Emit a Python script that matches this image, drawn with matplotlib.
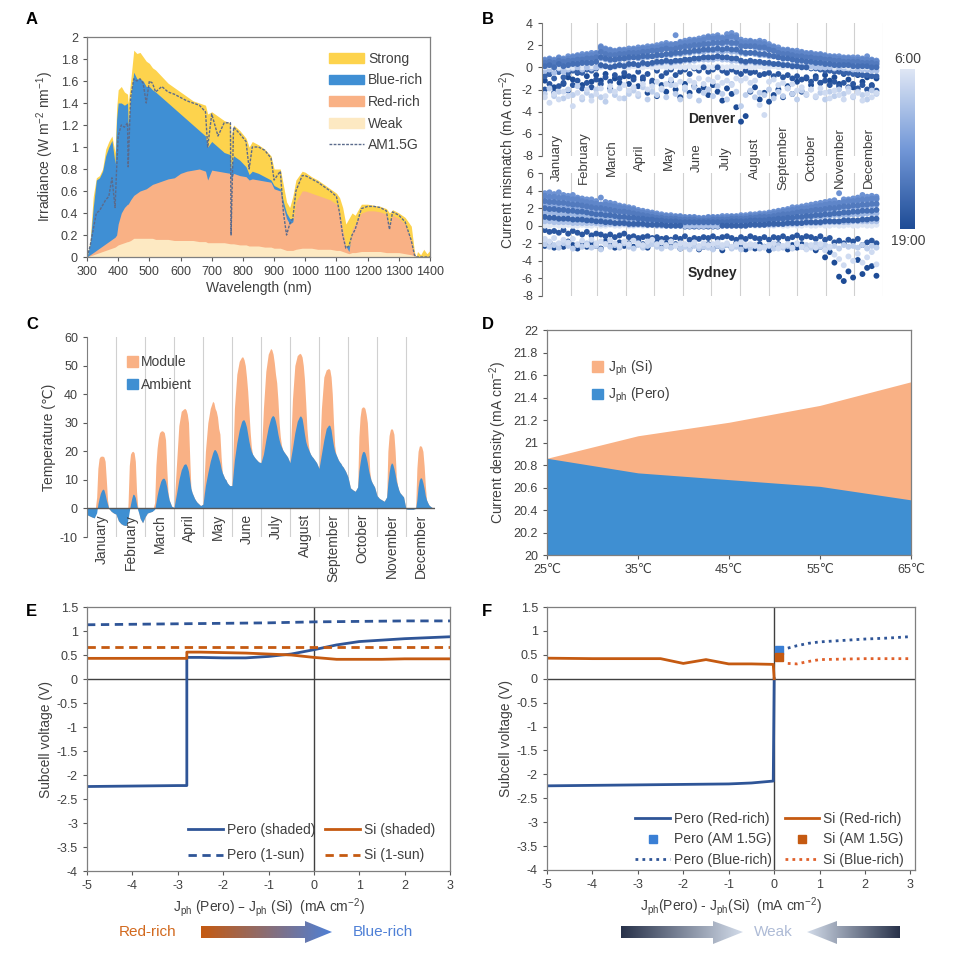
import numpy as np
import matplotlib
matplotlib.use("Agg")
import matplotlib.pyplot as plt
from matplotlib.colors import LinearSegmentedColormap
from matplotlib.patches import Polygon, Patch
from matplotlib.lines import Line2D
from matplotlib.ticker import FuncFormatter

plt.rcParams["font.family"] = ["Liberation Sans", "DejaVu Sans"]
plt.rcParams["mathtext.default"] = "regular"
plt.rcParams["axes.unicode_minus"] = False
plt.rcParams["font.size"] = 9
plt.rcParams["text.color"] = "#404040"
plt.rcParams["axes.labelcolor"] = "#404040"
plt.rcParams["xtick.color"] = "#595959"
plt.rcParams["ytick.color"] = "#595959"
plt.rcParams["xtick.labelcolor"] = "#404040"
plt.rcParams["ytick.labelcolor"] = "#404040"
plt.rcParams["xtick.major.size"] = 3
plt.rcParams["ytick.major.size"] = 3

# ---------------- A: spectra ----------------
wl = [300, 310, 320, 330, 340, 350, 360, 370, 380, 390, 395, 400, 410, 420, 430, 432, 440,
      450, 460, 470, 480, 490, 500, 510, 520, 540, 560, 580, 600, 620, 640, 660, 680, 687,
      700, 720, 740, 760, 762, 770, 790, 810, 820, 830, 850, 870, 890, 900, 920, 930, 940,
      950, 960, 970, 990, 1000, 1020, 1040, 1060, 1080, 1100, 1110, 1120, 1130, 1140, 1150,
      1160, 1180, 1200, 1220, 1240, 1260, 1270, 1280, 1300, 1320, 1340, 1350, 1355, 1360,
      1370, 1380, 1390, 1400]
am15 = [0.00, 0.10, 0.25, 0.40, 0.42, 0.47, 0.52, 0.55, 0.72, 0.45, 0.80, 1.10, 1.20, 1.18,
        1.22, 0.82, 1.45, 1.62, 1.60, 1.62, 1.58, 1.40, 1.60, 1.58, 1.50, 1.55, 1.50, 1.48,
        1.45, 1.42, 1.40, 1.38, 1.32, 1.00, 1.30, 1.10, 1.22, 1.22, 0.20, 1.18, 1.12, 1.05,
        0.80, 1.00, 1.00, 0.97, 0.90, 0.70, 0.78, 0.40, 0.20, 0.30, 0.35, 0.60, 0.74, 0.74,
        0.71, 0.68, 0.64, 0.60, 0.55, 0.40, 0.20, 0.08, 0.10, 0.20, 0.25, 0.44, 0.46, 0.46,
        0.45, 0.42, 0.25, 0.41, 0.38, 0.32, 0.15, 0.02, 0.00, 0.00, 0.00, 0.00, 0.00, 0.00]
strong = [0.00, 0.15, 0.55, 0.72, 0.74, 0.80, 0.98, 1.05, 1.10, 0.95, 1.35, 1.52, 1.55, 1.50,
          1.48, 1.40, 1.60, 1.88, 1.85, 1.86, 1.82, 1.78, 1.76, 1.72, 1.70, 1.64, 1.58, 1.54,
          1.50, 1.46, 1.42, 1.40, 1.38, 1.30, 1.32, 1.28, 1.24, 1.22, 1.10, 1.20, 1.15, 1.08,
          1.00, 1.05, 1.02, 0.98, 0.92, 0.80, 0.80, 0.65, 0.50, 0.45, 0.55, 0.70, 0.78, 0.77,
          0.73, 0.70, 0.66, 0.62, 0.58, 0.54, 0.45, 0.30, 0.35, 0.40, 0.38, 0.48, 0.48, 0.47,
          0.46, 0.44, 0.40, 0.43, 0.40, 0.36, 0.28, 0.05, 0.00, 0.05, 0.02, 0.07, 0.03, 0.06]
blue_rich = [0.00, 0.12, 0.45, 0.70, 0.72, 0.78, 0.92, 1.00, 1.06, 0.85, 1.25, 1.40, 1.40,
             1.38, 1.40, 1.20, 1.45, 1.68, 1.62, 1.62, 1.60, 1.55, 1.55, 1.52, 1.50, 1.45,
             1.40, 1.35, 1.30, 1.25, 1.20, 1.15, 1.10, 1.00, 1.05, 1.00, 0.95, 0.93, 0.80,
             0.92, 0.88, 0.82, 0.75, 0.78, 0.76, 0.73, 0.70, 0.65, 0.62, 0.50, 0.40, 0.35,
             0.35, 0.40, 0.42, 0.42, 0.40, 0.38, 0.36, 0.33, 0.30, 0.25, 0.15, 0.10, 0.10,
             0.15, 0.15, 0.20, 0.22, 0.22, 0.21, 0.20, 0.18, 0.20, 0.18, 0.15, 0.08, 0.02,
             0.00, 0.00, 0.00, 0.00, 0.00, 0.00]
red_rich = [0.00, 0.02, 0.04, 0.06, 0.08, 0.10, 0.12, 0.14, 0.16, 0.18, 0.20, 0.30, 0.40,
            0.45, 0.48, 0.48, 0.52, 0.56, 0.58, 0.60, 0.61, 0.62, 0.64, 0.66, 0.67, 0.69,
            0.71, 0.72, 0.76, 0.78, 0.79, 0.80, 0.78, 0.70, 0.79, 0.78, 0.77, 0.76, 0.70,
            0.76, 0.74, 0.73, 0.70, 0.71, 0.70, 0.69, 0.68, 0.62, 0.60, 0.45, 0.35, 0.30,
            0.32, 0.50, 0.60, 0.60, 0.58, 0.56, 0.54, 0.52, 0.48, 0.40, 0.25, 0.10, 0.05,
            0.25, 0.30, 0.40, 0.42, 0.42, 0.41, 0.39, 0.30, 0.38, 0.35, 0.30, 0.15, 0.02,
            0.00, 0.00, 0.00, 0.00, 0.00, 0.00]
weak = [0.00, 0.01, 0.02, 0.03, 0.04, 0.05, 0.06, 0.07, 0.08, 0.09, 0.10, 0.11, 0.12, 0.13,
        0.14, 0.14, 0.15, 0.17, 0.17, 0.17, 0.17, 0.17, 0.17, 0.17, 0.16, 0.16, 0.16, 0.15,
        0.15, 0.15, 0.15, 0.14, 0.14, 0.13, 0.13, 0.13, 0.13, 0.12, 0.12, 0.12, 0.11, 0.11,
        0.10, 0.10, 0.10, 0.09, 0.09, 0.08, 0.08, 0.07, 0.06, 0.06, 0.06, 0.07, 0.08, 0.08,
        0.08, 0.07, 0.07, 0.07, 0.06, 0.06, 0.05, 0.04, 0.03, 0.04, 0.04, 0.05, 0.05, 0.05,
        0.05, 0.04, 0.04, 0.04, 0.04, 0.03, 0.02, 0.01, 0.00, 0.00, 0.00, 0.00, 0.00, 0.00]

# ---------------- B: current mismatch (rows = sample days, columns = hours) ----------------
months = ["January", "February", "March", "April", "May", "June", "July", "August",
          "September", "October", "November", "December"]
month_edges = [0, 31, 59, 90, 120, 151, 181, 212, 243, 273, 304, 334, 365]
b_days = [3, 8, 13, 18, 23, 28, 33, 38, 43, 48, 53, 58, 63, 68, 73, 78, 83, 88, 93, 98,
          103, 108, 113, 118, 123, 128, 133, 138, 143, 148, 153, 158, 163, 168, 173, 178,
          183, 188, 193, 198, 203, 208, 213, 218, 223, 228, 233, 238, 243, 248, 253, 258,
          263, 268, 273, 278, 283, 288, 293, 298, 303, 308, 313, 318, 323, 328, 333, 338,
          343, 348, 353, 358]
# hour of day belonging to each column of the tables below
b_hours = [6, 8, 9, 10, 11, 12, 13, 14, 15, 16, 17, 18, 7, 19]
denver = [
    [0.0, -2.4, -0.3, 0.2, 0.4, 0.6, 0.7, 0.6, 0.4, 0.1, -0.8, -2.0, -2.7, -1.2],
    [0.1, -1.9, -0.2, 0.3, 0.5, 0.7, 0.8, 0.7, 0.5, 0.2, -0.6, -1.5, -3.2, -0.6],
    [0.0, -2.6, -0.5, 0.2, 0.5, 0.6, 0.7, 0.6, 0.4, 0.0, -1.0, -2.3, -2.4, -1.8],
    [0.0, -2.2, -0.1, 0.3, 0.6, 0.8, 0.9, 0.8, 0.6, 0.3, -0.4, -1.7, -2.9, -0.4],
    [0.1, -2.8, -0.4, 0.2, 0.5, 0.7, 0.8, 0.7, 0.5, 0.1, -0.9, -1.4, -2.2, -1.5],
    [0.0, -2.0, -0.2, 0.4, 0.7, 0.8, 1.0, 0.8, 0.6, 0.2, -0.5, -2.1, -2.6, -0.9],
    [0.0, -2.5, -0.1, 0.4, 0.7, 0.9, 1.0, 0.9, 0.6, 0.3, -0.3, -1.6, -3.5, -1.1],
    [0.1, -1.7, 0.0, 0.5, 0.8, 1.0, 1.1, 1.0, 0.7, 0.3, -0.4, -1.2, -2.3, -0.5],
    [0.0, -2.9, -0.2, 0.4, 0.8, 1.0, 1.2, 1.0, 0.7, 0.4, -0.5, -1.9, -2.7, -1.6],
    [0.0, -2.3, 0.0, 0.5, 0.9, 1.1, 1.2, 1.1, 0.8, 0.4, -0.2, -1.4, -2.0, -0.8],
    [0.1, -2.6, -0.1, 0.5, 0.9, 1.1, 1.3, 1.1, 0.8, 0.4, -0.3, -1.8, -3.0, -1.3],
    [0.0, -2.0, 0.0, 0.6, 1.0, 1.2, 1.3, 1.2, 0.9, 0.5, -0.1, -1.1, -2.4, -0.7],
    [0.0, -2.7, 0.1, 0.8, 1.3, 1.7, 1.9, 1.8, 1.4, 0.9, 0.2, -1.5, -1.9, -1.2],
    [0.1, -3.1, 0.1, 0.7, 1.2, 1.5, 1.7, 1.6, 1.2, 0.8, 0.1, -0.9, -2.6, -0.6],
    [0.0, -2.1, 0.0, 0.6, 1.1, 1.4, 1.6, 1.5, 1.1, 0.7, 0.0, -1.3, -1.7, -1.9],
    [0.0, -2.5, 0.1, 0.7, 1.2, 1.4, 1.5, 1.4, 1.1, 0.7, 0.1, -0.7, -2.2, -1.0],
    [0.1, -1.9, 0.2, 0.7, 1.2, 1.4, 1.6, 1.5, 1.2, 0.8, 0.2, -1.0, -2.8, -1.4],
    [0.0, -2.8, 0.2, 0.8, 1.3, 1.5, 1.6, 1.5, 1.2, 0.8, 0.1, -0.5, -1.6, -0.8],
    [0.0, -2.4, 0.2, 0.8, 1.3, 1.5, 1.7, 1.5, 1.3, 0.9, 0.3, -0.8, -2.1, -1.5],
    [0.1, -2.1, 0.3, 0.9, 1.3, 1.6, 1.7, 1.6, 1.3, 0.9, 0.3, -1.1, -1.8, -0.9],
    [0.0, -2.6, 0.2, 0.8, 1.4, 1.6, 1.8, 1.6, 1.3, 0.9, 0.2, -0.4, -2.4, -1.7],
    [0.0, -1.8, 0.3, 0.9, 1.4, 1.7, 1.8, 1.7, 1.4, 1.0, 0.4, -0.9, -1.5, -1.1],
    [0.1, -2.9, 0.3, 0.9, 1.5, 1.7, 1.9, 1.7, 1.4, 1.0, 0.3, -0.6, -2.0, -2.3],
    [0.0, -2.2, 0.3, 1.0, 1.5, 1.8, 1.9, 1.8, 1.5, 1.0, 0.4, -1.2, -1.7, -1.4],
    [0.0, -2.5, 0.4, 1.0, 1.5, 1.8, 2.0, 1.8, 1.5, 1.1, 0.5, -0.3, -1.3, -2.6],
    [0.1, -2.0, 0.4, 1.1, 1.6, 1.9, 2.1, 1.9, 1.6, 1.1, 0.5, -0.8, -1.9, -1.6],
    [0.0, -2.7, 0.5, 1.1, 1.7, 2.0, 2.2, 2.0, 1.7, 1.2, 0.6, -0.5, -1.5, -2.2],
    [0.0, -1.6, 0.4, 1.1, 1.7, 2.0, 2.1, 2.0, 1.6, 1.2, 0.5, -0.2, -1.1, -1.3],
    [0.1, -2.4, 0.5, 1.2, 1.7, 2.1, 2.9, 2.1, 1.7, 1.3, 0.6, -0.7, -1.6, -2.0],
    [0.0, -2.9, 0.5, 1.2, 1.8, 2.1, 2.3, 2.2, 1.8, 1.3, 0.6, -0.4, -1.3, -2.7],
    [0.0, -2.0, 0.6, 1.3, 1.8, 2.2, 2.4, 2.2, 1.9, 1.4, 0.7, -0.2, -1.8, -1.5],
    [0.1, -2.6, 0.6, 1.3, 1.9, 2.3, 2.5, 2.3, 1.9, 1.4, 0.7, -0.6, -1.2, -2.3],
    [0.0, -1.8, 0.6, 1.4, 1.9, 2.3, 2.5, 2.4, 2.0, 1.5, 0.8, -0.1, -1.4, -1.7],
    [0.0, -3.0, 0.7, 1.4, 2.0, 2.4, 2.6, 2.4, 2.0, 1.5, 0.8, -0.3, -1.0, -2.1],
    [0.1, -2.3, 0.7, 1.4, 2.0, 2.4, 2.7, 2.5, 2.1, 1.6, 0.9, 0.0, -1.5, -1.8],
    [0.0, -2.0, 0.7, 1.5, 2.1, 2.5, 2.8, 2.7, 2.1, 1.6, 0.9, -0.4, -1.1, -2.5],
    [0.0, -2.6, 0.7, 1.5, 2.1, 2.5, 2.8, 2.6, 2.2, 1.6, 0.9, -0.2, -1.3, -1.6],
    [0.1, -1.7, 0.8, 1.5, 2.2, 2.6, 2.9, 2.7, 2.2, 1.7, 1.0, 0.0, -0.9, -2.2],
    [0.0, -2.4, 0.7, 1.4, 2.1, 2.5, 2.7, 2.6, 2.2, 1.6, 0.9, -0.3, -1.4, -3.0],
    [0.0, -2.9, 0.7, 1.5, 2.2, 2.6, 3.0, 2.7, 2.3, 1.7, 0.9, -0.5, -1.2, -1.9],
    [0.1, -1.5, 0.6, 1.4, 2.1, 2.6, 3.1, 2.8, 2.2, 1.6, 0.8, -0.2, -1.6, -2.4],
    [0.0, -2.2, 0.6, 1.4, 2.1, 2.6, 2.9, 2.7, 2.2, 1.6, 0.8, -0.4, -1.0, -3.6],
    [0.0, -3.5, 0.5, 1.3, 2.0, 2.3, 2.5, 2.3, 1.9, 1.4, 0.6, -0.6, -1.2, -4.9],
    [0.1, -2.5, 0.4, 1.2, 1.9, 2.2, 2.4, 2.2, 1.9, 1.3, 0.5, -0.3, -1.0, -4.4],
    [0.0, -2.1, 0.5, 1.3, 1.9, 2.3, 2.4, 2.3, 1.9, 1.3, 0.6, -0.5, -1.4, -2.2],
    [0.0, -2.7, 0.4, 1.2, 1.8, 2.2, 2.3, 2.2, 1.9, 1.3, 0.5, -0.4, -1.2, -1.8],
    [0.1, -2.3, 0.4, 1.1, 1.7, 2.1, 2.4, 2.2, 1.8, 1.2, 0.5, -0.7, -3.4, -2.9],
    [0.0, -2.5, 0.4, 1.1, 1.7, 2.1, 2.3, 2.1, 1.8, 1.2, 0.4, -0.6, -4.3, -2.3],
    [0.0, -2.0, 0.3, 1.0, 1.6, 1.9, 2.1, 1.9, 1.6, 1.1, 0.4, -0.5, -1.3, -3.1],
    [0.1, -2.8, 0.3, 1.0, 1.5, 1.8, 1.9, 1.8, 1.5, 1.0, 0.3, -0.8, -1.1, -2.5],
    [0.0, -2.2, 0.3, 0.9, 1.4, 1.6, 1.8, 1.6, 1.3, 0.9, 0.3, -0.6, -1.6, -2.0],
    [0.0, -2.6, 0.3, 0.9, 1.3, 1.5, 1.6, 1.5, 1.2, 0.8, 0.2, -0.9, -1.4, -2.7],
    [0.1, -1.9, 0.2, 0.8, 1.3, 1.5, 1.6, 1.5, 1.2, 0.8, 0.2, -0.7, -1.9, -1.7],
    [0.0, -2.4, 0.2, 0.8, 1.2, 1.4, 1.5, 1.4, 1.1, 0.7, 0.1, -1.0, -1.5, -2.4],
    [0.0, -2.9, 0.2, 0.7, 1.1, 1.4, 1.5, 1.3, 1.0, 0.6, 0.1, -0.8, -2.1, -1.3],
    [0.1, -2.1, 0.1, 0.7, 1.1, 1.3, 1.4, 1.3, 1.0, 0.6, 0.0, -1.1, -1.8, -2.2],
    [0.0, -2.5, 0.1, 0.6, 1.0, 1.2, 1.3, 1.2, 0.9, 0.5, 0.0, -0.9, -2.4, -1.0],
    [0.0, -2.0, 0.1, 0.6, 1.0, 1.2, 1.3, 1.2, 0.9, 0.5, -0.1, -1.3, -2.0, -1.6],
    [0.1, -2.7, 0.0, 0.5, 0.9, 1.1, 1.2, 1.1, 0.8, 0.4, -0.1, -1.0, -2.6, -0.8],
    [0.0, -2.3, 0.0, 0.5, 0.9, 1.1, 1.2, 1.1, 0.8, 0.4, -0.2, -1.4, -1.9, -1.4],
    [0.0, -2.9, 0.0, 0.5, 0.8, 1.0, 1.1, 1.0, 0.7, 0.3, -0.3, -1.2, -2.3, -0.7],
    [0.1, -2.2, 0.0, 0.4, 0.8, 1.0, 1.0, 0.9, 0.7, 0.3, -0.3, -1.6, -2.8, -1.2],
    [0.0, -2.6, -0.1, 0.4, 0.7, 0.9, 1.0, 0.9, 0.6, 0.2, -0.4, -1.3, -2.1, -0.9],
    [0.0, -2.0, 0.0, 0.4, 0.7, 0.9, 1.0, 0.8, 0.6, 0.2, -0.4, -1.7, -2.5, -1.5],
    [0.1, -2.4, -0.1, 0.3, 0.7, 0.8, 0.9, 0.8, 0.5, 0.2, -0.5, -1.4, -2.9, -0.6],
    [0.0, -1.9, -0.1, 0.4, 0.7, 0.8, 0.9, 0.8, 0.5, 0.2, -0.5, -1.8, -2.2, -1.1],
    [0.0, -2.7, -0.2, 0.3, 0.6, 0.8, 0.9, 0.7, 0.5, 0.1, -0.6, -1.5, -2.6, -1.8],
    [0.1, -2.2, -0.2, 0.3, 0.6, 0.8, 0.9, 0.7, 0.5, 0.1, -0.6, -1.9, -2.3, -0.7],
    [0.0, -2.5, -0.2, 0.3, 0.5, 0.7, 0.8, 0.7, 0.4, 0.1, -0.7, -1.6, -3.0, -1.3],
    [0.0, -2.9, -0.2, 0.3, 0.5, 0.7, 1.0, 0.7, 0.4, 0.1, -0.7, -2.0, -2.4, -0.9],
    [0.1, -2.1, -0.3, 0.2, 0.5, 0.6, 0.7, 0.6, 0.4, 0.0, -0.8, -1.7, -2.7, -1.6],
    [0.0, -2.4, -0.3, 0.2, 0.4, 0.6, 0.6, 0.5, 0.3, 0.0, -0.8, -2.1, -2.3, -1.0],
]
sydney = [
    [0.0, -2.1, 0.5, 1.5, 2.5, 3.2, 3.7, 3.4, 2.8, 2.0, 1.0, -0.5, -1.5, -2.3],
    [0.0, -2.4, 0.5, 1.5, 2.4, 3.1, 3.8, 3.3, 2.7, 1.9, 0.9, -0.7, -1.8, -1.9],
    [0.1, -2.2, 0.4, 1.4, 2.4, 3.1, 3.6, 3.3, 2.7, 1.9, 0.9, -0.6, -1.4, -2.5],
    [0.0, -2.5, 0.4, 1.4, 2.3, 3.0, 3.8, 3.2, 2.6, 1.8, 0.8, -0.8, -2.0, -2.1],
    [0.0, -2.0, 0.4, 1.3, 2.3, 3.0, 3.5, 3.2, 2.6, 1.8, 0.8, -0.5, -1.6, -2.4],
    [0.1, -2.3, 0.4, 1.3, 2.2, 2.9, 3.4, 3.1, 2.5, 1.7, 0.8, -0.9, -1.9, -1.8],
    [0.0, -2.6, 0.3, 1.3, 2.2, 2.8, 3.5, 3.0, 2.4, 1.7, 0.7, -0.6, -1.5, -2.2],
    [0.0, -2.2, 0.3, 1.2, 2.1, 2.8, 3.2, 3.0, 2.4, 1.6, 0.7, -0.8, -2.1, -2.6],
    [0.1, -2.4, 0.3, 1.2, 2.0, 2.7, 3.1, 2.8, 2.3, 1.6, 0.7, -1.0, -1.7, -2.0],
    [0.0, -2.0, 0.3, 1.1, 2.0, 2.6, 3.0, 2.7, 2.2, 1.5, 0.6, -0.7, -2.2, -2.4],
    [0.0, -2.5, 0.3, 1.1, 1.9, 2.5, 3.0, 2.6, 2.1, 1.4, 0.6, -1.1, -1.6, -1.9],
    [0.1, -2.3, 0.3, 1.0, 1.8, 2.4, 2.8, 2.5, 2.0, 1.3, 0.5, -0.9, -2.0, -2.3],
    [0.0, -2.7, 0.2, 1.0, 1.8, 2.4, 3.2, 2.4, 2.0, 1.3, 0.5, -1.0, -1.8, -2.6],
    [0.0, -2.1, 0.2, 0.9, 1.7, 2.3, 2.7, 2.4, 1.9, 1.2, 0.4, -1.2, -2.1, -1.8],
    [0.1, -2.4, 0.2, 0.9, 1.7, 2.2, 2.6, 2.3, 1.8, 1.2, 0.4, -1.0, -1.7, -2.2],
    [0.0, -2.2, 0.2, 0.9, 1.6, 2.1, 2.5, 2.2, 1.7, 1.1, 0.3, -1.3, -2.0, -2.5],
    [0.0, -2.5, 0.2, 0.8, 1.5, 2.0, 2.3, 2.1, 1.6, 1.0, 0.3, -1.1, -2.3, -1.9],
    [0.1, -2.0, 0.2, 0.8, 1.5, 1.9, 2.2, 2.0, 1.6, 1.0, 0.3, -0.9, -1.8, -2.3],
    [0.0, -2.4, 0.1, 0.7, 1.4, 1.8, 2.1, 1.9, 1.5, 0.9, 0.2, -1.3, -2.1, -2.0],
    [0.0, -2.6, 0.1, 0.7, 1.3, 1.7, 2.0, 1.8, 1.4, 0.9, 0.2, -1.2, -1.7, -2.4],
    [0.1, -2.2, 0.1, 0.6, 1.2, 1.6, 1.8, 1.6, 1.3, 0.8, 0.2, -1.4, -2.0, -1.7],
    [0.0, -2.5, 0.1, 0.6, 1.1, 1.5, 1.7, 1.5, 1.2, 0.8, 0.2, -1.3, -2.2, -2.1],
    [0.0, -2.3, 0.1, 0.5, 1.0, 1.4, 1.6, 1.4, 1.1, 0.7, 0.1, -1.2, -1.8, -2.5],
    [0.1, -2.1, 0.1, 0.5, 1.0, 1.3, 1.5, 1.3, 1.0, 0.7, 0.1, -1.4, -1.6, -2.0],
    [0.0, -2.4, 0.0, 0.4, 0.9, 1.2, 1.4, 1.2, 0.9, 0.6, 0.1, -1.3, -2.1, -1.8],
    [0.0, -2.6, 0.0, 0.4, 0.8, 1.1, 1.3, 1.1, 0.9, 0.6, 0.1, -1.5, -1.9, -2.3],
    [0.1, -2.3, 0.0, 0.4, 0.8, 1.0, 1.2, 1.1, 0.8, 0.5, 0.0, -1.4, -2.2, -2.0],
    [0.0, -2.5, 0.0, 0.4, 0.7, 1.0, 1.2, 1.0, 0.8, 0.5, 0.0, -1.6, -1.8, -2.4],
    [0.0, -2.2, 0.0, 0.3, 0.7, 0.9, 1.1, 1.0, 0.8, 0.5, 0.0, -1.3, -2.3, -2.1],
    [0.1, -2.6, 0.0, 0.3, 0.7, 0.9, 1.1, 1.0, 0.7, 0.4, 0.0, -1.5, -2.0, -2.6],
    [0.0, -2.4, 0.0, 0.3, 0.6, 0.9, 1.0, 0.9, 0.7, 0.4, -0.1, -1.2, -2.1, -2.3],
    [0.0, -2.7, 0.0, 0.3, 0.6, 0.8, 1.0, 0.9, 0.7, 0.4, -0.1, -1.6, -2.2, -2.5],
    [0.1, -2.3, 0.0, 0.3, 0.6, 0.8, 1.0, 0.9, 0.7, 0.4, -0.1, -1.4, -1.9, -2.2],
    [0.0, -2.6, 0.0, 0.3, 0.6, 0.8, 0.9, 0.8, 0.6, 0.4, -0.1, -1.5, -2.3, -2.7],
    [0.0, -2.4, 0.0, 0.3, 0.6, 0.8, 0.9, 0.8, 0.6, 0.4, -0.1, -1.3, -2.0, -2.4],
    [0.1, -2.5, 0.0, 0.3, 0.6, 0.8, 1.0, 0.9, 0.6, 0.4, -0.1, -1.4, -2.2, -2.1],
    [0.0, -2.7, 0.0, 0.3, 0.6, 0.8, 1.0, 0.9, 0.7, 0.4, -0.1, -1.2, -2.1, -2.6],
    [0.0, -2.3, 0.0, 0.3, 0.6, 0.8, 1.0, 0.9, 0.7, 0.4, -0.1, -1.5, -1.9, -2.3],
    [0.1, -2.5, 0.0, 0.3, 0.6, 0.9, 1.1, 0.9, 0.7, 0.4, 0.0, -1.3, -2.2, -2.8],
    [0.0, -2.2, 0.0, 0.3, 0.6, 0.9, 1.1, 0.9, 0.7, 0.4, 0.0, -1.2, -2.0, -2.2],
    [0.0, -2.6, 0.0, 0.4, 0.7, 0.9, 1.1, 1.0, 0.8, 0.5, 0.0, -1.4, -2.4, -2.5],
    [0.1, -2.4, 0.0, 0.4, 0.7, 0.9, 1.1, 1.0, 0.8, 0.5, 0.0, -1.6, -2.1, -2.0],
    [0.0, -2.7, 0.0, 0.4, 0.7, 1.0, 1.2, 1.0, 0.8, 0.5, 0.0, -1.3, -1.9, -2.4],
    [0.0, -2.3, 0.0, 0.4, 0.7, 1.0, 1.2, 1.0, 0.8, 0.5, 0.0, -1.5, -2.2, -2.7],
    [0.1, -2.5, 0.1, 0.5, 0.8, 1.1, 1.3, 1.1, 0.9, 0.6, 0.1, -1.2, -2.1, -2.2],
    [0.0, -2.2, 0.1, 0.5, 0.8, 1.1, 1.3, 1.1, 0.9, 0.6, 0.1, -1.4, -2.3, -2.6],
    [0.0, -2.6, 0.1, 0.5, 0.9, 1.2, 1.4, 1.2, 1.0, 0.6, 0.1, -1.5, -2.4, -2.1],
    [0.1, -2.4, 0.1, 0.5, 0.9, 1.2, 1.4, 1.2, 1.0, 0.6, 0.1, -1.3, -2.5, -2.4],
    [0.0, -2.3, 0.1, 0.6, 1.0, 1.3, 1.5, 1.3, 1.0, 0.7, 0.2, -1.6, -2.2, -2.8],
    [0.0, -2.6, 0.1, 0.6, 1.1, 1.4, 1.6, 1.4, 1.1, 0.7, 0.2, -1.3, -2.0, -2.5],
    [0.1, -2.2, 0.2, 0.7, 1.1, 1.5, 1.7, 1.5, 1.2, 0.8, 0.2, -1.4, -2.6, -2.1],
    [0.0, -2.5, 0.2, 0.7, 1.2, 1.6, 1.8, 1.6, 1.3, 0.8, 0.2, -1.2, -2.3, -2.4],
    [0.0, -2.3, 0.2, 0.7, 1.3, 1.7, 1.9, 1.7, 1.3, 0.9, 0.3, -1.5, -2.1, -2.7],
    [0.1, -2.6, 0.2, 0.8, 1.4, 1.8, 2.1, 1.8, 1.4, 0.9, 0.3, -1.3, -2.5, -2.2],
    [0.0, -2.1, 0.2, 0.8, 1.4, 1.8, 2.1, 1.9, 1.5, 1.0, 0.3, -1.1, -2.0, -2.5],
    [0.0, -2.4, 0.3, 0.9, 1.5, 1.9, 2.2, 2.0, 1.6, 1.0, 0.3, -1.4, -2.4, -2.1],
    [0.1, -2.2, 0.3, 0.9, 1.5, 2.0, 2.3, 2.0, 1.6, 1.1, 0.4, -1.2, -2.7, -2.6],
    [0.0, -2.5, 0.3, 1.0, 1.6, 2.1, 2.4, 2.1, 1.7, 1.1, 0.4, -1.3, -2.2, -2.3],
    [0.0, -2.1, 0.3, 1.0, 1.7, 2.2, 2.5, 2.2, 1.8, 1.2, 0.4, -1.5, -2.5, -2.8],
    [0.1, -2.4, 0.3, 1.0, 1.7, 2.2, 2.6, 2.3, 1.8, 1.2, 0.4, -1.2, -2.1, -2.4],
    [0.0, -2.2, 0.4, 1.1, 1.8, 2.3, 2.7, 2.4, 1.9, 1.3, 0.5, -1.6, -2.8, -3.6],
    [0.0, -2.5, 0.4, 1.1, 1.8, 2.4, 2.8, 2.5, 2.0, 1.3, 0.5, -1.4, -2.4, -3.0],
    [0.1, -2.3, 0.4, 1.2, 1.9, 2.5, 2.9, 2.5, 2.0, 1.4, 0.5, -1.9, -3.3, -4.2],
    [0.0, -2.6, 0.4, 1.2, 2.0, 2.6, 3.7, 2.6, 2.1, 1.4, 0.5, -1.7, -3.8, -5.8],
    [0.0, -2.2, 0.4, 1.2, 2.0, 2.6, 3.0, 2.7, 2.2, 1.5, 0.6, -2.0, -4.5, -6.3],
    [0.1, -2.4, 0.4, 1.2, 2.1, 2.7, 3.0, 2.8, 2.2, 1.5, 0.6, -1.6, -3.5, -5.2],
    [0.0, -2.3, 0.5, 1.3, 2.1, 2.7, 3.1, 2.8, 2.3, 1.6, 0.6, -1.8, -4.0, -5.9],
    [0.0, -2.5, 0.5, 1.3, 2.2, 2.8, 3.2, 2.9, 2.3, 1.6, 0.6, -1.5, -3.2, -3.9],
    [0.1, -2.2, 0.5, 1.3, 2.2, 2.9, 3.5, 3.0, 2.4, 1.7, 0.7, -2.2, -4.2, -5.5],
    [0.0, -2.6, 0.5, 1.4, 2.3, 2.9, 3.3, 3.0, 2.4, 1.7, 0.7, -1.9, -3.6, -4.8],
    [0.0, -2.3, 0.5, 1.4, 2.3, 3.0, 3.4, 3.1, 2.5, 1.7, 0.8, -1.7, -3.0, -4.6],
    [0.1, -2.5, 0.5, 1.4, 2.4, 3.0, 3.3, 3.1, 2.5, 1.8, 0.8, -2.0, -4.4, -5.7],
]

# ---------------- C: temperature ----------------
c_hours = [0, 2, 4, 6, 8, 9, 10, 11, 12, 13, 14, 15, 16, 17, 18, 19, 20, 22]
ambient = [
    [-2.2, -2.6, -3.0, -3.3, -1.5, 1.5, 3.5, 5.2, 6.2, 6.8, 6.5, 5.0, 3.0, 1.5, 0.0, -0.5, -1.0, -1.6],
    [-2.0, -4.3, -5.3, -5.8, -6.0, -5.6, -3.5, -1.0, 1.5, 3.5, 5.0, 4.8, 3.8, 1.5, -0.5, -1.8, -3.5, -5.0],
    [-3.0, -1.6, -1.3, -1.0, -0.3, 2.0, 4.5, 6.5, 8.0, 9.5, 10.3, 10.6, 10.5, 9.5, 7.5, 5.0, 3.0, 0.8],
    [0.3, 5.0, 10.0, 13.5, 15.3, 15.6, 15.5, 14.5, 13.0, 10.0, 7.0, 5.5, 4.5, 3.5, 2.8, 2.2, 1.8, 1.0],
    [1.5, 8.0, 12.5, 16.5, 19.5, 20.5, 20.6, 20.0, 19.0, 17.5, 16.0, 14.0, 12.5, 11.5, 10.5, 10.0, 9.0, 8.0],
    [8.0, 17.0, 23.0, 27.5, 30.5, 31.0, 31.0, 30.0, 28.5, 26.0, 23.5, 21.5, 20.0, 19.0, 18.3, 17.7, 17.2, 16.3],
    [16.0, 19.0, 24.0, 28.5, 31.5, 32.3, 32.5, 32.0, 30.5, 28.5, 26.0, 24.0, 22.5, 21.5, 20.5, 19.8, 19.2, 18.0],
    [16.0, 21.0, 26.5, 30.5, 32.3, 32.3, 31.5, 29.0, 26.0, 23.5, 22.0, 21.0, 20.0, 19.0, 18.3, 17.8, 17.2, 16.0],
    [14.0, 19.0, 24.0, 28.0, 29.2, 29.0, 27.5, 24.5, 22.0, 20.0, 19.0, 18.0, 17.0, 16.3, 15.8, 15.0, 14.5, 13.0],
    [11.0, 7.2, 6.5, 6.0, 7.5, 13.0, 16.0, 18.5, 19.8, 20.0, 19.5, 18.0, 16.0, 13.5, 11.5, 10.0, 9.0, 7.5],
    [4.5, 3.5, 3.0, 2.5, 4.0, 9.0, 12.5, 15.0, 16.0, 15.5, 14.0, 12.0, 9.5, 8.0, 6.5, 5.5, 5.0, 4.0],
    [-0.2, -0.3, -0.3, -0.3, 0.0, 3.0, 7.5, 10.0, 10.8, 10.5, 9.0, 7.0, 4.5, 3.0, 2.0, 1.2, 0.8, 0.2],
]
module = [
    [-2.2, -2.6, -3.0, -3.3, 4.0, 14.0, 17.5, 18.2, 18.3, 18.3, 18.0, 16.5, 10.0, 3.0, 0.0, -0.5, -1.0, -1.6],
    [-2.0, -4.3, -5.3, -5.8, -6.0, -5.6, 2.0, 15.0, 19.0, 19.8, 20.0, 19.5, 16.5, 6.0, 0.5, -1.8, -3.5, -5.0],
    [-3.0, -1.6, -1.3, -1.0, 2.0, 15.0, 21.0, 24.5, 26.5, 27.0, 27.2, 27.0, 26.5, 24.0, 14.0, 6.0, 3.0, 0.8],
    [0.3, 15.0, 29.0, 34.0, 34.8, 35.0, 34.5, 33.0, 30.0, 18.0, 7.0, 5.5, 4.5, 3.5, 2.8, 2.2, 1.8, 1.0],
    [1.5, 20.0, 30.0, 35.0, 37.5, 37.0, 35.0, 34.0, 32.0, 28.0, 26.0, 18.0, 12.5, 11.5, 10.5, 10.0, 9.0, 8.0],
    [8.0, 35.0, 47.0, 51.5, 53.0, 53.0, 52.0, 50.0, 46.0, 41.0, 34.0, 27.0, 21.5, 19.0, 18.3, 17.7, 17.2, 16.3],
    [16.0, 35.0, 48.0, 54.0, 56.0, 55.5, 54.0, 51.0, 47.0, 44.0, 38.0, 30.0, 25.0, 22.0, 20.5, 19.8, 19.2, 18.0],
    [16.0, 38.0, 50.0, 53.5, 54.3, 54.0, 53.0, 50.0, 45.0, 37.0, 28.0, 23.0, 20.0, 19.0, 18.3, 17.8, 17.2, 16.0],
    [14.0, 35.0, 46.0, 48.5, 49.0, 48.5, 46.0, 40.0, 30.0, 22.0, 19.0, 18.0, 17.0, 16.3, 15.8, 15.0, 14.5, 13.0],
    [11.0, 7.2, 6.5, 6.0, 7.5, 25.0, 32.0, 35.0, 35.5, 35.5, 35.0, 33.0, 30.0, 22.0, 13.0, 10.0, 9.0, 7.5],
    [4.5, 3.5, 3.0, 2.5, 4.0, 20.0, 25.5, 27.5, 28.0, 27.5, 26.0, 20.0, 11.0, 8.0, 6.5, 5.5, 5.0, 4.0],
    [-0.2, -0.3, -0.3, -0.3, 0.5, 14.0, 20.0, 21.8, 22.0, 21.5, 20.0, 15.0, 8.0, 3.0, 2.0, 1.2, 0.8, 0.2],
]

# ---------------- D: current density vs temperature ----------------
d_temps = ["25\u2103", "35\u2103", "45\u2103", "55\u2103", "65\u2103"]
jph_si = [20.86, 21.06, 21.18, 21.33, 21.54]
jph_pero = [20.86, 20.73, 20.67, 20.61, 20.49]

# ---------------- E: subcell voltage ----------------
e_x = [-5, -4, -3, -2.8, -2.8, -2.5, -2, -1.5, -1, -0.5, 0, 0.5, 1, 1.5, 2, 2.5, 3]
e_pero_shaded = [-2.24, -2.23, -2.22, -2.22, 0.45, 0.45, 0.44, 0.44, 0.47, 0.52, 0.61,
                 0.71, 0.78, 0.81, 0.84, 0.86, 0.88]
e_si_shaded = [0.43, 0.43, 0.43, 0.43, 0.56, 0.56, 0.55, 0.54, 0.52, 0.50, 0.45,
               0.41, 0.41, 0.41, 0.42, 0.42, 0.42]
e_sun_x = [-5, -3, -1, 0, 1, 2, 3]
e_pero_sun = [1.13, 1.15, 1.17, 1.19, 1.20, 1.21, 1.21]
e_si_sun = [0.66, 0.66, 0.66, 0.66, 0.66, 0.66, 0.66]

# ---------------- F: subcell voltage, weak light ----------------
f_pero_red_x = [-5, -4, -3, -2, -1, -0.5, -0.02, 0]
f_pero_red = [-2.24, -2.23, -2.22, -2.21, -2.20, -2.18, -2.14, 0.0]
f_si_red_x = [-5, -4, -3, -2.5, -2, -1.5, -1, -0.5, -0.02, 0]
f_si_red = [0.43, 0.42, 0.42, 0.42, 0.32, 0.40, 0.31, 0.31, 0.30, 0.0]
f_am_x = [0.1]
f_pero_am = [0.61]
f_si_am = [0.45]
f_blue_x = [0.3, 0.5, 0.75, 1, 1.5, 2, 2.5, 3]
f_pero_blue = [0.64, 0.69, 0.74, 0.77, 0.80, 0.83, 0.85, 0.88]
f_si_blue = [0.32, 0.31, 0.36, 0.40, 0.41, 0.42, 0.42, 0.42]

PERO = "#2f5597"
SI = "#c55a11"
SPINE = "#7f7f7f"
fmt = FuncFormatter(lambda v, p: f"{v:g}")

W, H = 960, 956
fig = plt.figure(figsize=(9.6, 9.56), dpi=100)


def px_axes(l, t, r, b):
    return fig.add_axes([l / W, 1 - b / H, (r - l) / W, (b - t) / H])


def box(ax):
    for s in ax.spines.values():
        s.set_color(SPINE)
        s.set_linewidth(0.9)


def panel_letter(x, y, s):
    fig.text(x / W, 1 - y / H, s, fontsize=12, fontweight="bold", color="black",
             ha="left", va="center")


# A
axA = px_axes(87, 37, 430, 257)
axA.fill_between(wl, 0, strong, color="#fdd34d", lw=0)
axA.fill_between(wl, 0, blue_rich, color="#3f8fd4", lw=0)
axA.fill_between(wl, 0, red_rich, color="#f9b185", lw=0)
axA.fill_between(wl, 0, weak, color="#fde9c2", lw=0)
axA.plot(wl, am15, color="#5b6b8c", lw=1, dashes=(2, 1))
axA.set_xlim(300, 1400)
axA.set_ylim(0, 2)
axA.set_xticks(range(300, 1401, 100))
axA.set_yticks(np.arange(0, 2.01, 0.2))
axA.yaxis.set_major_formatter(fmt)
axA.set_xlabel("Wavelength (nm)", fontsize=10, labelpad=2)
axA.set_ylabel("Irradiance (W m$^{-2}$ nm$^{-1}$)", fontsize=10, labelpad=3)
box(axA)
handlesA = [Patch(color="#fdd34d"), Patch(color="#3f8fd4"), Patch(color="#f9b185"),
            Patch(color="#fde9c2"), Line2D([], [], color="#5b6b8c", lw=1, dashes=(2, 1))]
axA.legend(handlesA, ["Strong", "Blue-rich", "Red-rich", "Weak", "AM1.5G"], loc="upper left",
           bbox_to_anchor=(0.67, 0.99), frameon=False, fontsize=10, handlelength=2.5,
           handleheight=0.7, labelspacing=0.55, handletextpad=0.3)
panel_letter(26, 20, "A")

# B
cmapB = LinearSegmentedColormap.from_list("hours", ["#dfe7f5", "#7398d8", "#1e4c96"])
axB1 = px_axes(542, 23, 883, 156)
axB2 = px_axes(542, 173, 883, 296)
for ax, data, ylim, name, ny in [(axB1, denver, (-8, 4), "Denver", -4.7),
                                 (axB2, sydney, (-8, 6), "Sydney", -5.4)]:
    for e in month_edges[1:]:
        ax.axvline(e, color="#d0d0d0", lw=0.8, zorder=0)
    vals = np.array(data).ravel()
    xx = np.repeat(b_days, len(b_hours))
    hh = np.tile(b_hours, len(b_days))
    # draw order: above zero later hours on top, below zero earlier hours on top
    order = np.argsort(np.where(vals >= 0, hh, -hh), kind="stable")
    ax.scatter(xx[order], vals[order], c=hh[order], cmap=cmapB, vmin=6, vmax=19, s=18,
               linewidths=0, zorder=2)
    ax.set_xlim(0, 365)
    ax.set_ylim(*ylim)
    ax.set_yticks(range(ylim[0], ylim[1] + 1, 2))
    ax.set_xticks([])
    for s in ["top", "right", "bottom"]:
        ax.spines[s].set_visible(False)
    ax.spines["left"].set_color(SPINE)
    ax.text(182, ny, name, fontsize=10, fontweight="bold", ha="center", va="center", color="#262626")
for i, m in enumerate(months):
    xc = (month_edges[i] + month_edges[i + 1]) / 2
    fx = (542 + (883 - 542) * xc / 365) / W
    fig.text(fx, 1 - 158 / H, m, rotation=90, ha="center", va="center", fontsize=9.5)
fig.text(508 / W, 1 - 160 / H, "Current mismatch (mA cm$^{-2}$)", rotation=90,
         ha="center", va="center", fontsize=10)
cb = px_axes(900, 69, 915, 229)
cb.imshow(np.linspace(0, 1, 256).reshape(-1, 1), cmap=cmapB, aspect="auto")
cb.axis("off")
fig.text(908 / W, 1 - 59 / H, "6:00", ha="center", va="center", fontsize=10)
fig.text(908 / W, 1 - 241 / H, "19:00", ha="center", va="center", fontsize=10)
panel_letter(482, 20, "B")

# C
axC = px_axes(87, 337, 435, 537)
xC = [m * 24 + h for m in range(12) for h in c_hours] + [288]
ambC = [v for row in ambient for v in row] + [0.0]
modC = [v for row in module for v in row] + [0.0]
for m in range(1, 12):
    axC.axvline(m * 24, color="#d0d0d0", lw=0.8, zorder=0)
axC.fill_between(xC, 0, modC, color="#f9b185", lw=0, zorder=1)
axC.fill_between(xC, 0, ambC, color="#3f8fd2", lw=0, zorder=2)
axC.axhline(0, color="#595959", lw=1, zorder=3)
axC.set_xlim(0, 288)
axC.set_ylim(-10, 60)
axC.set_yticks(range(-10, 61, 10))
axC.set_xticks([])
for s in ["top", "right", "bottom"]:
    axC.spines[s].set_visible(False)
axC.spines["left"].set_color(SPINE)
for i, m in enumerate(months):
    axC.annotate(m, (i * 24 + 12, 0), xytext=(0, -4), textcoords="offset points",
                 rotation=90, ha="center", va="top", fontsize=10, annotation_clip=False)
axC.set_ylabel("Temperature (\u2103)", fontsize=10, labelpad=3)
axC.legend([Patch(color="#f9b185"), Patch(color="#3f8fd2")], ["Module", "Ambient"],
           loc="upper left", bbox_to_anchor=(0.08, 0.97), frameon=False, fontsize=10,
           handlelength=0.8, handleheight=0.8, handletextpad=0.2, labelspacing=0.6)
panel_letter(26, 325, "C")

# D
axD = px_axes(547, 330, 911, 555)
xD = range(len(d_temps))
axD.fill_between(xD, 20, jph_si, color="#f9b185", lw=0)
axD.fill_between(xD, 20, jph_pero, color="#3f8fd2", lw=0)
axD.set_xlim(0, 4)
axD.set_ylim(20, 22)
axD.set_xticks(list(xD))
axD.set_xticklabels(d_temps)
axD.set_yticks(np.arange(20, 22.01, 0.2))
axD.yaxis.set_major_formatter(fmt)
axD.set_ylabel("Current density (mA cm$^{-2}$)", fontsize=10, labelpad=3)
box(axD)
axD.legend([Patch(color="#f9b185"), Patch(color="#3f8fd2")], ["J$_{ph}$ (Si)", "J$_{ph}$ (Pero)"],
           loc="upper left", bbox_to_anchor=(0.09, 0.93), frameon=False, fontsize=10,
           handlelength=0.8, handleheight=0.8, handletextpad=0.3, labelspacing=0.6)
panel_letter(482, 325, "D")

# E
axE = px_axes(87, 607, 450, 871)
axE.axhline(0, color="#404040", lw=1)
axE.axvline(0, color="#404040", lw=1)
lE1, = axE.plot(e_x, e_pero_shaded, color=PERO, lw=2)
lE2, = axE.plot(e_sun_x, e_pero_sun, color=PERO, lw=2, dashes=(3, 2))
lE3, = axE.plot(e_x, e_si_shaded, color=SI, lw=2)
lE4, = axE.plot(e_sun_x, e_si_sun, color=SI, lw=2, dashes=(3, 2))
axE.set_xlim(-5, 3)
axE.set_ylim(-4, 1.5)
axE.set_xticks(range(-5, 4))
axE.set_yticks(np.arange(-4, 1.51, 0.5))
axE.yaxis.set_major_formatter(fmt)
axE.set_xlabel("J$_{ph}$ (Pero) \u2013 J$_{ph}$ (Si)  (mA cm$^{-2}$)", fontsize=10, labelpad=3)
axE.set_ylabel("Subcell voltage (V)", fontsize=10, labelpad=3)
box(axE)
axE.legend([lE1, lE2, lE3, lE4], ["Pero (shaded)", "Pero (1-sun)", "Si (shaded)", "Si (1-sun)"],
           ncol=2, loc="lower left", bbox_to_anchor=(0.245, -0.015), frameon=False, fontsize=10,
           handlelength=2.5, handletextpad=0.3, columnspacing=0.7, labelspacing=0.85)
panel_letter(26, 612, "E")

# F
axF = px_axes(547, 607, 915, 870)
axF.axhline(0, color="#404040", lw=1)
axF.axvline(0, color="#404040", lw=1)
lF1, = axF.plot(f_pero_red_x, f_pero_red, color=PERO, lw=2)
lF2, = axF.plot(f_am_x, f_pero_am, "s", color="#3a7fd5", ms=5.5)
lF3, = axF.plot(f_blue_x, f_pero_blue, color=PERO, lw=2, ls=(0, (1, 1.5)))
lF4, = axF.plot(f_si_red_x, f_si_red, color=SI, lw=2)
lF5, = axF.plot(f_am_x, f_si_am, "s", color=SI, ms=5.5)
lF6, = axF.plot(f_blue_x, f_si_blue, color="#e0602a", lw=2, ls=(0, (1, 1.5)))
axF.set_xlim(-5, 3.1)
axF.set_ylim(-4, 1.5)
axF.set_xticks(range(-5, 4))
axF.set_yticks(np.arange(-4, 1.51, 0.5))
axF.yaxis.set_major_formatter(fmt)
axF.set_xlabel("J$_{ph}$(Pero) - J$_{ph}$(Si)  (mA cm$^{-2}$)", fontsize=10, labelpad=3)
axF.set_ylabel("Subcell voltage (V)", fontsize=10, labelpad=3)
box(axF)
axF.legend([lF1, lF2, lF3, lF4, lF5, lF6],
           ["Pero (Red-rich)", "Pero (AM 1.5G)", "Pero (Blue-rich)",
            "Si (Red-rich)", "Si (AM 1.5G)", "Si (Blue-rich)"],
           ncol=2, loc="lower left", bbox_to_anchor=(0.206, -0.035), frameon=False, fontsize=10,
           handlelength=2.5, handletextpad=0.3, columnspacing=0.9, labelspacing=0.45)
panel_letter(482, 612, "F")

# gradient arrows under E and F
ov = fig.add_axes([0, 0, 1, 1])
ov.axis("off")


def grad_arrow(pts, x0, x1, c0, c1):
    poly = Polygon(pts, closed=True, facecolor="none", edgecolor="none")
    ov.add_patch(poly)
    cm = LinearSegmentedColormap.from_list("g", [c0, c1])
    im = ov.imshow(np.linspace(0, 1, 256).reshape(1, -1), cmap=cm,
                   extent=[x0, x1, 946, 918], aspect="auto")
    im.set_clip_path(poly)


grad_arrow([(201, 926), (305, 926), (305, 921), (332, 932), (305, 943), (305, 938), (201, 938)],
           201, 332, "#c55a11", "#4f80d6")
grad_arrow([(621, 926), (713, 926), (713, 921), (743, 932), (713, 944), (713, 938), (621, 938)],
           621, 743, "#28324a", "#d3dcea")
grad_arrow([(900, 926), (837, 926), (837, 921), (807, 932), (837, 944), (837, 938), (900, 938)],
           807, 900, "#d3dcea", "#28324a")
ov.set_xlim(0, W)
ov.set_ylim(H, 0)
ov.text(148, 932, "Red-rich", color="#d2691e", fontsize=11, ha="center", va="center")
ov.text(383, 932, "Blue-rich", color="#4f80d6", fontsize=11, ha="center", va="center")
ov.text(773, 932, "Weak", color="#aebbd6", fontsize=11, ha="center", va="center")

fig.savefig("out.png", dpi=100)
